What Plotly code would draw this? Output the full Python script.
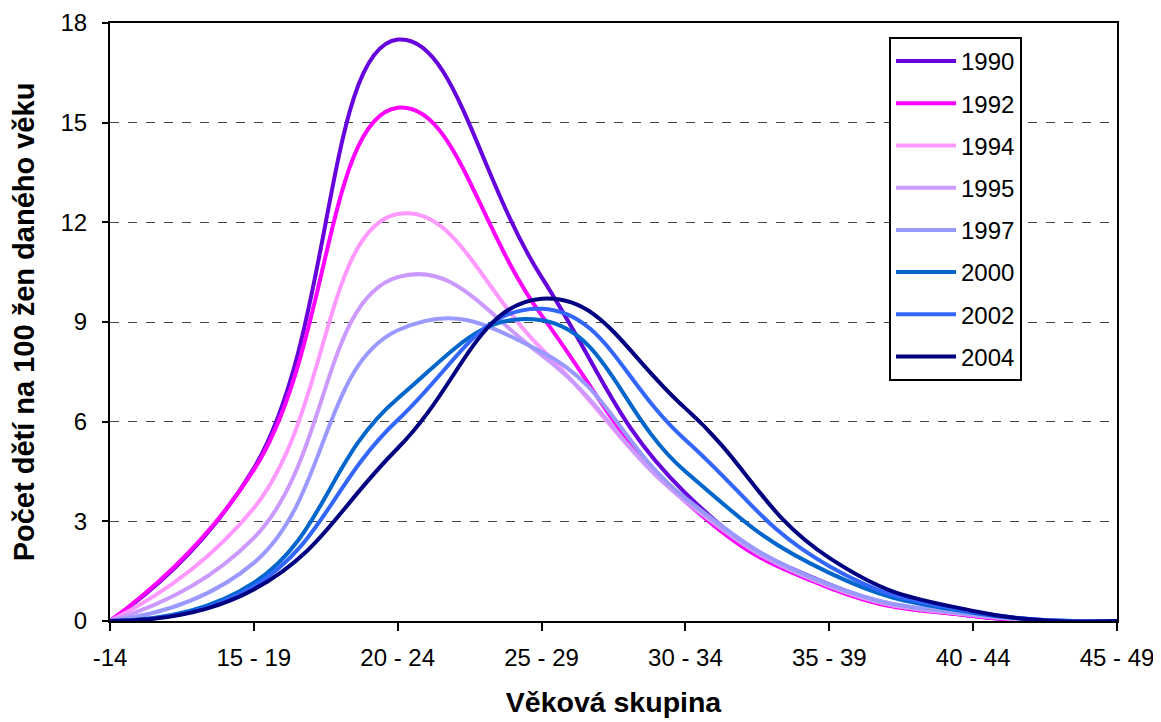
import plotly.graph_objects as go

categories = ["-14", "15 - 19", "20 - 24", "25 - 29", "30 - 34", "35 - 39", "40 - 44", "45 - 49"]
years = ["1990", "1992", "1994", "1995", "1997", "2000", "2002", "2004"]

v1990 = [0.0, 4.6, 17.5, 10.35, 3.85, 1.1, 0.15, 0.0]
v1992 = [0.0, 4.55, 15.45, 9.2, 3.6, 1.0, 0.15, 0.0]
v1994 = [0.0, 3.4, 12.25, 8.2, 3.65, 1.05, 0.17, 0.0]
v1995 = [0.0, 2.5, 10.35, 8.0, 3.6, 1.05, 0.18, 0.0]
v1997 = [0.0, 1.75, 8.75, 8.1, 3.7, 1.1, 0.2, 0.0]
v2000 = [0.0, 1.15, 6.7, 9.05, 4.5, 1.45, 0.25, 0.0]
v2002 = [0.0, 1.05, 6.05, 9.4, 5.45, 1.65, 0.28, 0.0]
v2004 = [0.0, 0.95, 5.2, 9.7, 6.4, 1.9, 0.3, 0.0]

series = [v1990, v1992, v1994, v1995, v1997, v2000, v2002, v2004]
colors = ["#6600DD", "#FF00FF", "#FF99FF", "#CC99FF", "#9999FF", "#0066CC", "#3366FF", "#000080"]

FONT = "Liberation Sans, Arial, sans-serif"

fig = go.Figure()
for i, (name, vals, col) in enumerate(zip(years, series, colors)):
    fig.add_trace(go.Scatter(
        x=list(range(len(categories))), y=vals, name=name, mode="lines",
        line=dict(color=col, width=4, shape="spline", smoothing=1.3),
        legendgroup=f"g{i}",
    ))

fig.update_layout(
    width=1153, height=714,
    margin=dict(l=102, r=44, t=15, b=101),
    paper_bgcolor="white", plot_bgcolor="white",
    font=dict(family=FONT, size=24, color="black"),
    showlegend=True,
    legend=dict(
        x=0.7736, y=0.9766, xanchor="left", yanchor="top",
        bordercolor="black", borderwidth=2, bgcolor="white",
        font=dict(family=FONT, size=24, color="black"),
        tracegroupgap=8, itemwidth=60,
    ),
)

fig.update_xaxes(
    range=[0, len(categories) - 1],
    tickmode="array", tickvals=list(range(len(categories))), ticktext=categories,
    showline=True, linecolor="black", linewidth=2, mirror=True,
    ticks="outside", ticklen=8, tickwidth=2, tickcolor="black",
    showgrid=False, zeroline=False, automargin=False,
    tickfont=dict(family=FONT, size=24),
    ticklabelstandoff=6,
    title=dict(text="<b>Věková skupina</b>", font=dict(family=FONT, size=28.5), standoff=22),
)
fig.update_yaxes(
    range=[0, 18], tickmode="linear", tick0=0, dtick=3,
    showline=True, linecolor="black", linewidth=2, mirror=True,
    ticks="outside", ticklen=6, tickwidth=2, tickcolor="black",
    showgrid=True, gridcolor="#444444", gridwidth=1, griddash="dash",
    zeroline=False, automargin=False,
    tickfont=dict(family=FONT, size=24),
    ticklabelstandoff=10,
    title=dict(text="<b>Počet dětí na 100 žen daného věku</b>", font=dict(family=FONT, size=29), standoff=18),
)

fig.write_html("out.html")
